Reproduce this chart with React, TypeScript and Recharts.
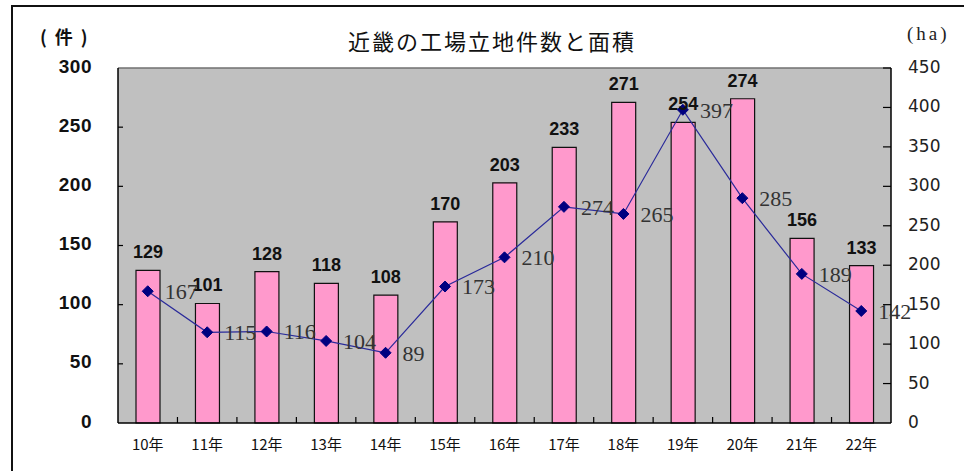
import React from "react";
import {
  ComposedChart,
  Bar,
  Line,
  XAxis,
  YAxis,
  CartesianGrid,
  LabelList,
  ReferenceLine,
} from "recharts";

const years = ["10年", "11年", "12年", "13年", "14年", "15年", "16年", "17年", "18年", "19年", "20年", "21年", "22年"];
const counts = [129, 101, 128, 118, 108, 170, 203, 233, 271, 254, 274, 156, 133];
const areas = [167, 115, 116, 104, 89, 173, 210, 274, 265, 397, 285, 189, 142];
const leftTicks = [0, 50, 100, 150, 200, 250, 300];
const rightTicks = [0, 50, 100, 150, 200, 250, 300, 350, 400, 450];

const data = years.map((y, i) => ({ year: y, count: counts[i], area: areas[i] }));

const XTick = (props: any) => {
  const { x, y, payload, index } = props;
  const off = payload && typeof payload.offset === "number" ? payload.offset : 29.7;
  return (
    <g>
      <text
        x={x}
        y={y + 20}
        textAnchor="middle"
        dominantBaseline="central"
        fontFamily="'Noto Sans CJK JP'"
        fontSize={15}
        fill="#111"
      >
        {payload.value}
      </text>
      {index < years.length - 1 && (
        <line x1={x + off} x2={x + off} y1={y} y2={y - 6} stroke="#000" strokeWidth={1.2} />
      )}
    </g>
  );
};

const LeftTick = (props: any) => {
  const { x, y, payload } = props;
  return (
    <g>
      <text
        x={x}
        y={y - 2}
        textAnchor="end"
        dominantBaseline="central"
        fontFamily="'Liberation Sans', Arial"
        fontWeight="bold"
        fontSize={19}
        letterSpacing={0.5}
        fill="#111"
      >
        {payload.value}
      </text>
      {payload.value !== 0 && payload.value !== 300 && (
        <line x1={x + 26} x2={x + 31} y1={y} y2={y} stroke="#000" strokeWidth={1.2} />
      )}
    </g>
  );
};

const RightTick = (props: any) => {
  const { x, y, payload } = props;
  return (
    <g>
      <text
        x={x}
        y={y - 1}
        textAnchor="start"
        dominantBaseline="central"
        fontFamily="'DejaVu Sans'"
        fontSize={17}
        fill="#222"
      >
        {payload.value}
      </text>
      {payload.value !== 0 && (
        <line x1={x - 17} x2={x - 25} y1={y} y2={y} stroke="#000" strokeWidth={1.2} />
      )}
    </g>
  );
};

const Diamond = (props: any) => {
  const { cx, cy, index } = props;
  if (cx == null || cy == null) return <g key={`d-${index}`} />;
  const s = 5.5;
  return (
    <polygon
      key={`d-${index}`}
      points={`${cx},${cy - s} ${cx + s},${cy} ${cx},${cy + s} ${cx - s},${cy}`}
      fill="#000080"
      stroke="#000080"
    />
  );
};

export default function App() {
  return (
    <div style={{ position: "absolute", left: 0, top: 0, width: 964, height: 471, background: "#fff", overflow: "hidden" }}>
      <div
        style={{
          position: "absolute",
          left: 11,
          top: 5,
          width: 980,
          height: 490,
          borderLeft: "2px solid #111",
          borderTop: "2px solid #111",
        }}
      />
      <div
        style={{
          position: "absolute",
          left: 0,
          width: 984,
          top: 27,
          textAlign: "center",
          fontFamily: "'Noto Sans CJK JP'",
          fontSize: 22,
          letterSpacing: 2,
          color: "#111",
          lineHeight: "26px",
        }}
      >
        近畿の工場立地件数と面積
      </div>
      <div
        style={{
          position: "absolute",
          left: 40,
          top: 24,
          fontFamily: "'Noto Sans CJK JP'",
          fontWeight: "bold",
          fontSize: 18,
          letterSpacing: 8,
          color: "#111",
          lineHeight: "24px",
        }}
      >
        (件)
      </div>
      <div
        style={{
          position: "absolute",
          left: 907,
          top: 23,
          fontFamily: "'Liberation Serif'",
          fontSize: 19,
          letterSpacing: 3,
          color: "#222",
          lineHeight: "22px",
        }}
      >
        (ha)
      </div>
      <div style={{ position: "absolute", left: 0, top: 0 }}>
        <ComposedChart
          width={964}
          height={471}
          data={data}
          margin={{ top: 68, right: 13, bottom: 18, left: 58 }}
        >
          <CartesianGrid fill="#c0c0c0" stroke="none" horizontal={false} vertical={false} />
          <XAxis
            dataKey="year"
            tick={<XTick />}
            tickLine={false}
            tickSize={0}
            tickMargin={0}
            height={30}
            axisLine={{ stroke: "#000", strokeWidth: 1.5 }}
            interval={0}
          />
          <YAxis
            yAxisId="left"
            domain={[0, 300]}
            ticks={leftTicks}
            tick={<LeftTick />}
            tickLine={false}
            tickSize={0}
            tickMargin={26}
            width={60}
            axisLine={{ stroke: "#000", strokeWidth: 1.5 }}
            interval={0}
          />
          <YAxis
            yAxisId="right"
            orientation="right"
            domain={[0, 450]}
            ticks={rightTicks}
            tick={<RightTick />}
            tickLine={false}
            tickSize={0}
            tickMargin={17}
            width={60}
            axisLine={{ stroke: "#000", strokeWidth: 1.5 }}
            interval={0}
          />
          <ReferenceLine yAxisId="left" y={300} stroke="#707070" strokeWidth={1.5} />
          <Bar
            yAxisId="left"
            dataKey="count"
            barSize={24}
            fill="#ff99cc"
            stroke="#111"
            strokeWidth={1.2}
            isAnimationActive={false}
          >
            <LabelList
              dataKey="count"
              position="top"
              offset={12}
              fill="#111"
              fontFamily="'Liberation Sans', Arial"
              fontWeight="bold"
              fontSize={18}
            />
          </Bar>
          <Line
            yAxisId="right"
            dataKey="area"
            stroke="#2a2a9a"
            strokeWidth={1.2}
            dot={Diamond}
            activeDot={false}
            isAnimationActive={false}
          >
            <LabelList
              dataKey="area"
              position="right"
              offset={17}
              fill="#333"
              fontFamily="'Liberation Serif'"
              fontSize={22}
            />
          </Line>
        </ComposedChart>
      </div>
    </div>
  );
}
